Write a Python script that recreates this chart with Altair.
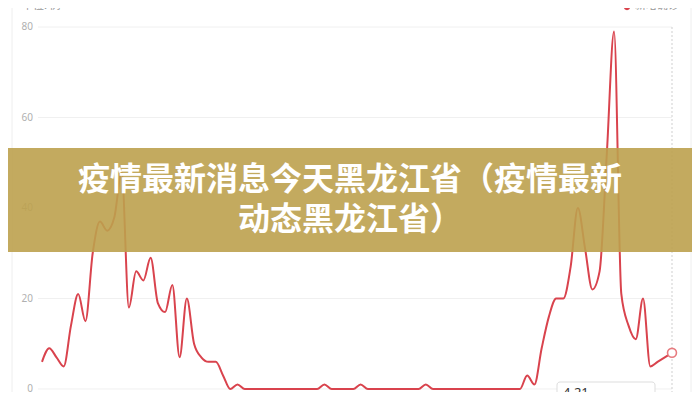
import altair as alt
import pandas as pd

# daily new confirmed cases (index 0 .. 87, last day = 4.21)
new_cases = [6, 9, 7, 5, 14, 21, 15, 30, 37, 35,
             38, 48, 18, 26, 24, 29, 19, 17, 23, 7,
             20, 10, 7, 6, 6, 3, 0, 1, 0, 0,
             0, 0, 0, 0, 0, 0, 0, 0, 0, 1,
             0, 0, 0, 0, 1, 0, 0, 0, 0, 0,
             0, 0, 0, 1, 0, 0, 0, 0, 0, 0,
             0, 0, 0, 0, 0, 0, 0, 3, 1, 9,
             16, 20, 20, 27, 40, 31, 22, 26, 52, 79,
             21, 14, 11, 20, 5, 6, 7, 8]
days = list(range(len(new_cases)))
y_ticks = [0, 20, 40, 60, 80]
y_tick_labels = ["0", "20", "40", "60", "80"]
last_label = "4.21"
unit_text = "单位: 例"
legend_text = "新增确诊"
banner_lines = ["疫情最新消息今天黑龙江省（疫情最新", "动态黑龙江省）"]

W, H = 684, 384
xscale = alt.Scale(domain=[-4.695, 89.762], nice=False, zero=False)
yscale = alt.Scale(domain=[-0.663, 84.2], nice=False, zero=False)

series = pd.DataFrame({"day": days, "value": new_cases})
ticks = pd.DataFrame({"v": y_ticks, "label": y_tick_labels})
one = pd.DataFrame({"k": [0]})
last = series.tail(1)

grid = alt.Chart(ticks).mark_rule(color="#f0f0f0", strokeWidth=1).encode(
    y=alt.Y("v:Q", scale=yscale, axis=None),
    x=alt.value(30), x2=alt.value(664))

labels = alt.Chart(ticks).mark_text(align="right", baseline="middle", fontSize=10,
                                    color="#b0b0b0", font="Noto Sans").encode(
    y=alt.Y("v:Q", scale=yscale, axis=None),
    x=alt.value(25), text="label:N")

left_border = alt.Chart(one).mark_rule(color="#eeeeee").encode(
    x=alt.value(4), y=alt.value(0), y2=alt.value(H))
right_border = alt.Chart(one).mark_rule(color="#eeeeee").encode(
    x=alt.value(683), y=alt.value(0), y2=alt.value(H))
pointer = alt.Chart(one).mark_rule(color="#cfcfcf", strokeDash=[2, 2]).encode(
    x=alt.value(664), y=alt.value(19), y2=alt.value(H))

line = alt.Chart(series).mark_line(color="#d9434d", strokeWidth=2,
                                   interpolate="monotone").encode(
    x=alt.X("day:Q", scale=xscale, axis=None),
    y=alt.Y("value:Q", scale=yscale, axis=None))

end_pt = alt.Chart(last).mark_point(filled=True, fill="white", stroke="#e77b7f",
                                    strokeWidth=1.6, size=80, opacity=1).encode(
    x=alt.X("day:Q", scale=xscale, axis=None),
    y=alt.Y("value:Q", scale=yscale, axis=None))

tip_box = alt.Chart(one).mark_rect(fill="white", stroke="#dddddd", cornerRadius=3).encode(
    x=alt.value(549), x2=alt.value(647), y=alt.value(374), y2=alt.value(H + 10))
tip_text = alt.Chart(one).mark_text(align="left", baseline="top", fontSize=13,
                                    color="#333333", font="Noto Sans").encode(
    x=alt.value(555), y=alt.value(379), text=alt.value(last_label))

unit = alt.Chart(one).mark_text(align="left", baseline="middle", fontSize=11,
                                color="#999999", font="Noto Sans CJK SC").encode(
    x=alt.value(14), y=alt.value(-2), text=alt.value(unit_text))
legend_dot = alt.Chart(one).mark_point(filled=True, color="#d9414b", size=40, opacity=1).encode(
    x=alt.value(619), y=alt.value(-1))
legend_lbl = alt.Chart(one).mark_text(align="left", baseline="middle", fontSize=11,
                                      color="#999999", font="Noto Sans CJK SC").encode(
    x=alt.value(627), y=alt.value(-2), text=alt.value(legend_text))

banner = alt.Chart(one).mark_rect(fill="#bda14e", opacity=0.9).encode(
    x=alt.value(0), x2=alt.value(W), y=alt.value(140), y2=alt.value(244))

banner_df = pd.DataFrame({"t": banner_lines, "yy": [172, 212]})
banner_text = alt.Chart(banner_df).mark_text(align="center", baseline="middle", fontSize=32,
                                             fontWeight="bold", color="white",
                                             font="Noto Sans CJK SC").encode(
    x=alt.value(342), y=alt.Y("yy:Q", scale=None, axis=None), text="t:N")

chart = alt.layer(left_border, right_border, grid, labels, pointer, line, end_pt,
                  tip_box, tip_text, unit, legend_dot, legend_lbl, banner, banner_text
                  ).properties(
    width=W, height=H, padding=0,
    autosize=alt.AutoSizeParams(type="none"),
    background="white"
).configure_view(stroke=None)

chart.save("out.html", embed_options={"renderer": "svg", "actions": False})
